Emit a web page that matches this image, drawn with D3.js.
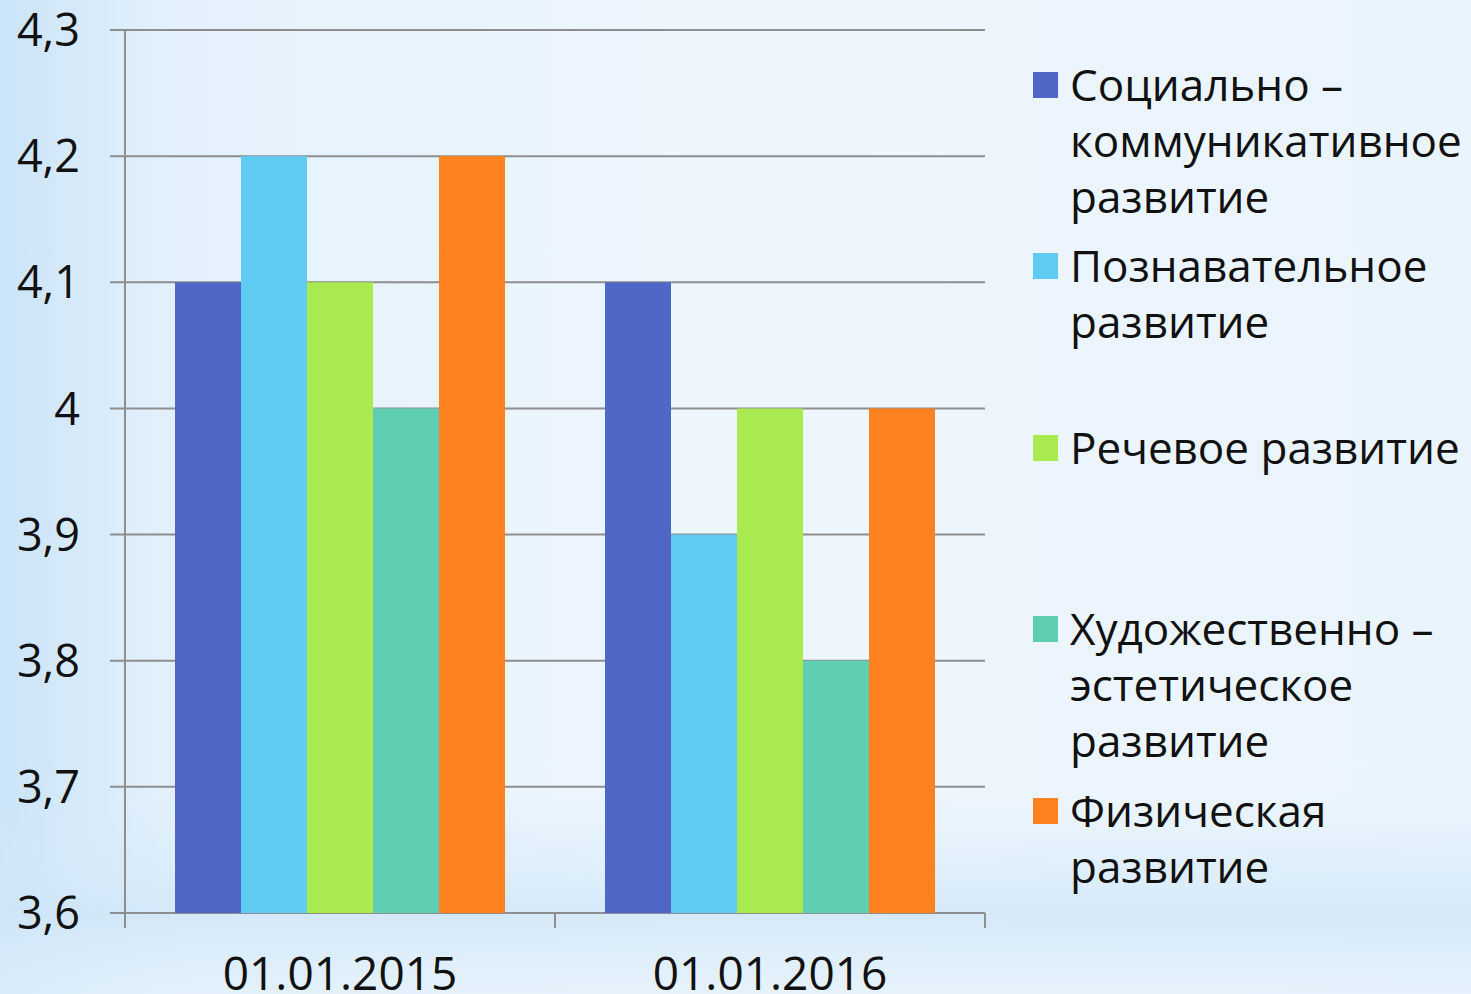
<!DOCTYPE html>
<html>
<head>
<meta charset="utf-8">
<script src="https://cdn.jsdelivr.net/npm/d3@7"></script>
<style>
  body { margin: 0; overflow: hidden; }
  svg { display: block; font-family: "Open Sans", sans-serif; }
</style>
</head>
<body>
<div id="chart"></div>
<script>
const categories = ["01.01.2015", "01.01.2016"];
const seriesNames = [
  ["Социально –", "коммуникативное", "развитие"],
  ["Познавательное", "развитие"],
  ["Речевое развитие"],
  ["Художественно –", "эстетическое", "развитие"],
  ["Физическая", "развитие"]
];
const seriesColors = ["#4f67c7", "#5fcbf2", "#a9ea50", "#5ecfb2", "#ff8220"];
const values = [
  [4.1, 4.2, 4.1, 4.0, 4.2],
  [4.1, 3.9, 4.0, 3.8, 4.0]
];
const yTicks = [3.6, 3.7, 3.8, 3.9, 4.0, 4.1, 4.2, 4.3];
const legendY = [85, 266, 448, 629, 811];

const width = 1471, height = 994;
const svg = d3.select("#chart").append("svg")
  .attr("width", width).attr("height", height);

// background
const defs = svg.append("defs");
const g1 = defs.append("linearGradient").attr("id", "bgH");
g1.append("stop").attr("offset", "0").attr("stop-color", "#cbe4f8");
g1.append("stop").attr("offset", "0.12").attr("stop-color", "#e4f1fc");
g1.append("stop").attr("offset", "0.5").attr("stop-color", "#eef6fd");
g1.append("stop").attr("offset", "1").attr("stop-color", "#eaf4fd");
const g2 = defs.append("linearGradient").attr("id", "bgV")
  .attr("x1", 0).attr("y1", 0).attr("x2", 0).attr("y2", 1);
g2.append("stop").attr("offset", "0").attr("stop-color", "#d8ebfa").attr("stop-opacity", 0);
g2.append("stop").attr("offset", "0.8").attr("stop-color", "#d8ebfa").attr("stop-opacity", 0);
g2.append("stop").attr("offset", "0.92").attr("stop-color", "#cfe6f8").attr("stop-opacity", 0.8);
g2.append("stop").attr("offset", "1").attr("stop-color", "#e2f0fb").attr("stop-opacity", 0.6);
svg.append("rect").attr("width", width).attr("height", height).attr("fill", "url(#bgH)");
svg.append("rect").attr("width", width).attr("height", height).attr("fill", "url(#bgV)");

const plotLeft = 125, plotRight = 985, plotTop = 30, plotBottom = 913;

const y = d3.scaleLinear().domain([3.6, 4.3]).range([plotBottom, plotTop]);
const x0 = d3.scaleBand().domain(categories).range([plotLeft, plotRight]);
const x1 = d3.scaleBand().domain(d3.range(seriesNames.length))
  .range([50, x0.bandwidth() - 50]);

// grid lines
svg.append("g").selectAll("line").data(yTicks).join("line")
  .attr("x1", plotLeft - 15).attr("x2", plotRight)
  .attr("y1", d => y(d)).attr("y2", d => y(d))
  .attr("stroke", "#8e8e8e").attr("stroke-width", 2);

// bars
svg.append("g").selectAll("g").data(values).join("g")
  .attr("transform", (d, i) => `translate(${x0(categories[i])},0)`)
  .selectAll("rect").data(d => d).join("rect")
  .attr("x", (d, j) => x1(j)).attr("width", x1.bandwidth())
  .attr("y", d => y(d)).attr("height", d => plotBottom - y(d))
  .attr("fill", (d, j) => seriesColors[j]);

// y axis line
svg.append("line").attr("x1", plotLeft).attr("x2", plotLeft)
  .attr("y1", plotTop).attr("y2", plotBottom + 15)
  .attr("stroke", "#8e8e8e").attr("stroke-width", 2);
// x axis ticks
const xTicks = [plotLeft].concat(categories.map(c => x0(c) + x0.bandwidth()));
svg.append("g").selectAll("line").data(xTicks).join("line")
  .attr("x1", d => d).attr("x2", d => d)
  .attr("y1", plotBottom).attr("y2", plotBottom + 15)
  .attr("stroke", "#8e8e8e").attr("stroke-width", 2);

// y labels
svg.append("g").selectAll("text").data(yTicks).join("text")
  .attr("x", 80).attr("y", d => y(d)).attr("dy", "0.36em")
  .attr("text-anchor", "end").attr("font-size", 45).attr("fill", "#111")
  .text(d => d3.format(".1f")(d).replace(".", ",").replace(",0", ""));

// x labels
svg.append("g").selectAll("text").data(categories).join("text")
  .attr("x", d => x0(d) + x0.bandwidth() / 2).attr("y", 990)
  .attr("text-anchor", "middle").attr("font-size", 46).attr("fill", "#111")
  .text(d => d);

// legend
const lg = svg.append("g").selectAll("g").data(seriesNames).join("g")
  .attr("transform", (d, i) => `translate(1033,${legendY[i]})`);
lg.append("rect").attr("x", 0).attr("y", -13).attr("width", 25).attr("height", 26)
  .attr("fill", (d, i) => seriesColors[i]);
lg.append("text").attr("font-size", 44).attr("fill", "#111")
  .selectAll("tspan").data(d => d).join("tspan")
  .attr("x", 37).attr("y", (d, k) => k * 56).attr("dy", "0.36em")
  .text(d => d);
</script>
</body>
</html>
